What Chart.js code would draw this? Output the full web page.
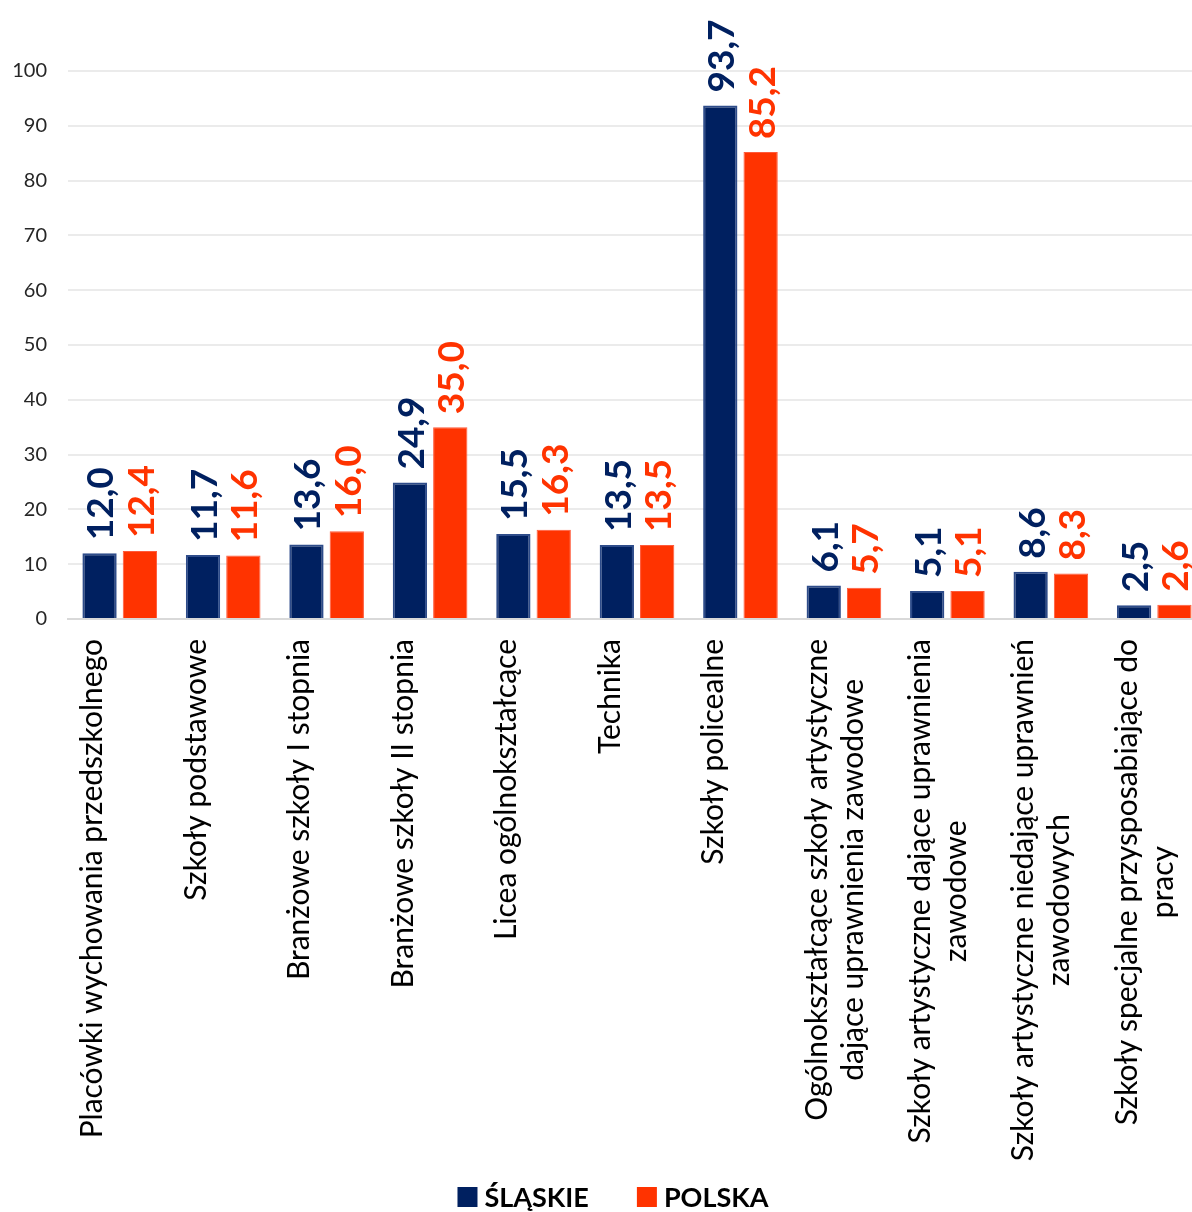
<!DOCTYPE html>
<html lang="pl">
<head>
<meta charset="utf-8">
<title>Śląskie i Polska</title>
<script src="https://cdn.jsdelivr.net/npm/chart.js@4.4.1/dist/chart.umd.min.js"></script>
<style>
  html, body { margin: 0; padding: 0; background: #fff; overflow: hidden; }
  /* plot runs a little past the right edge, like the original */
  #wrap { width: 1206px; height: 1212px; position: relative; }
</style>
</head>
<body>
<div id="wrap"><canvas id="chart"></canvas></div>
<script>
// data
const categories = [
  "Placówki wychowania przedszkolnego",
  "Szkoły podstawowe",
  "Branżowe szkoły I stopnia",
  "Branżowe szkoły II stopnia",
  "Licea ogólnokształcące",
  "Technika",
  "Szkoły policealne",
  ["Ogólnokształcące szkoły artystyczne", "dające uprawnienia zawodowe"],
  ["Szkoły artystyczne dające uprawnienia", "zawodowe"],
  ["Szkoły artystyczne niedające uprawnień", "zawodowych"],
  ["Szkoły specjalne przysposabiające do", "pracy"],
];
const slaskie = [12.0, 11.7, 13.6, 24.9, 15.5, 13.5, 93.7, 6.1, 5.1, 8.6, 2.5];
const polska = [12.4, 11.6, 16.0, 35.0, 16.3, 13.5, 85.2, 5.7, 5.1, 8.3, 2.6];
const seriesNames = ["ŚLĄSKIE", "POLSKA"];
const yMax = 100;
const yStep = 10;

const NAVY = "#002060";
const ORANGE = "#FF3300";
const FONT = "Lato, 'Open Sans', sans-serif";

// value labels, rotated, above each bar
const valueLabels = {
  id: "valueLabels",
  afterDatasetsDraw(chart) {
    const ctx = chart.ctx;
    ctx.save();
    ctx.font = `bold 37px ${FONT}`;
    ctx.textAlign = "left";
    ctx.textBaseline = "middle";
    chart.data.datasets.forEach((ds, i) => {
      ctx.fillStyle = ds.backgroundColor;
      chart.getDatasetMeta(i).data.forEach((bar, j) => {
        const txt = ds.data[j].toFixed(1).replace(".", ",");
        ctx.save();
        ctx.translate(bar.x + 2, bar.y - 13);
        ctx.rotate(-Math.PI / 2);
        ctx.fillText(txt, 0, 0);
        ctx.restore();
      });
    });
    ctx.restore();
  },
};

// category names, vertical, lines centred inside the block
const categoryLabels = {
  id: "categoryLabels",
  afterDraw(chart) {
    const xs = chart.scales.x;
    const ctx = chart.ctx;
    const lineH = 36;
    ctx.save();
    ctx.font = `30px ${FONT}`;
    ctx.fillStyle = "#000";
    ctx.textAlign = "center";
    ctx.textBaseline = "middle";
    categories.forEach((label, i) => {
      const lines = Array.isArray(label) ? label : [label];
      const w = Math.max(...lines.map((l) => ctx.measureText(l).width));
      const cx = xs.getPixelForValue(i);
      lines.forEach((line, k) => {
        ctx.save();
        ctx.translate(cx + (k - 0.5) * lineH - 9, xs.top + 20 + w / 2);
        ctx.rotate(-Math.PI / 2);
        ctx.fillText(line, 0, 0);
        ctx.restore();
      });
    });
    ctx.restore();
  },
};

// legend at the bottom
const bottomLegend = {
  id: "bottomLegend",
  afterDraw(chart) {
    const ctx = chart.ctx;
    ctx.save();
    ctx.font = `bold 27px ${FONT}`;
    ctx.textBaseline = "middle";
    const box = 20, gap = 7, spacing = 48;
    const items = chart.data.datasets.map((ds) => ({
      text: ds.label,
      color: ds.backgroundColor,
      w: ctx.measureText(ds.label).width,
    }));
    const total = items.reduce((s, it) => s + box + gap + it.w, 0) + spacing * (items.length - 1);
    let x = chart.width / 2 + 10 - total / 2;
    const y = chart.height - 15;
    items.forEach((it) => {
      ctx.fillStyle = it.color;
      ctx.fillRect(x, y - box / 2, box, box);
      x += box + gap;
      ctx.fillStyle = "#000";
      ctx.fillText(it.text, x, y + 1);
      x += it.w + spacing;
    });
    ctx.restore();
  },
};

new Chart(document.getElementById("chart"), {
  type: "bar",
  data: {
    labels: categories,
    datasets: [
      {
        label: seriesNames[0],
        data: slaskie,
        backgroundColor: NAVY,
        borderColor: "#2E4C8A",
        borderWidth: 2,
      },
      {
        label: seriesNames[1],
        data: polska,
        backgroundColor: ORANGE,
        borderColor: "#FF5A3A",
        borderWidth: 1,
      },
    ],
  },
  options: {
    responsive: true,
    maintainAspectRatio: false,
    animation: false,
    layout: { padding: { top: 71, right: 0, bottom: 52, left: 0 } },
    datasets: { bar: { categoryPercentage: 0.78, barPercentage: 0.85 } },
    plugins: {
      legend: { display: false },
      tooltip: { enabled: false },
    },
    scales: {
      x: {
        grid: { display: false },
        border: { color: "#d9d9d9", width: 2 },
        ticks: { display: false },
        afterFit(s) { s.height = 541; },
      },
      y: {
        min: 0,
        max: yMax,
        ticks: {
          stepSize: yStep,
          padding: 21,
          color: "#262626",
          font: { family: FONT, size: 20 },
        },
        grid: { color: "#ebebeb", lineWidth: 2, drawTicks: false },
        border: { display: false },
        afterFit(s) { s.width = 68; },
      },
    },
  },
  plugins: [valueLabels, categoryLabels, bottomLegend],
});
</script>
</body>
</html>
